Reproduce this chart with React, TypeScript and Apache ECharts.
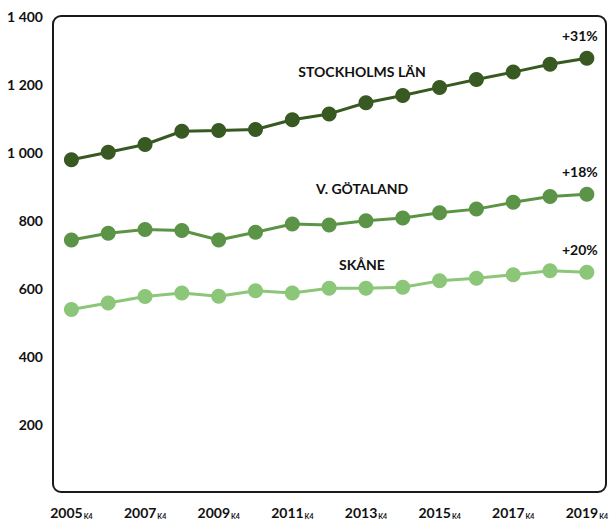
import React, { useEffect, useRef } from "react";
import * as echarts from "echarts";

const years = ["2005","2006","2007","2008","2009","2010","2011","2012","2013","2014","2015","2016","2017","2018","2019"];
const stockholm = [977, 999, 1022, 1061, 1063, 1066, 1095, 1112, 1145, 1166, 1190, 1213, 1235, 1258, 1276];
const vgotaland = [741, 761, 772, 769, 741, 764, 788, 785, 798, 806, 821, 832, 852, 869, 876];
const skane = [537, 556, 575, 585, 576, 592, 585, 599, 599, 602, 621, 629, 639, 651, 646];
const seriesNames = ["STOCKHOLMS LÄN", "V. GÖTALAND", "SKÅNE"];
const changeLabels = ["+31%", "+18%", "+20%"];
const yTicks = [0, 200, 400, 600, 800, 1000, 1200, 1400];
const quarterSuffix = "K4";

const colors = ["#385a22", "#5c9447", "#8cc679"];
const FONT = "Lato, 'Open Sans', sans-serif";

export default function App() {
  const ref = useRef<HTMLDivElement>(null);
  useEffect(() => {
    if (!ref.current) return;
    const chart = echarts.init(ref.current, undefined, { renderer: "svg" });
    const gridLeft = 53, gridRight = 5, gridTop = 16, gridBottom = 27;
    const W = 611, H = 519;
    const all = [stockholm, vgotaland, skane];
    const mkSeries = (data: number[], i: number) => ({
      type: "line",
      name: seriesNames[i],
      data: data.map((v, j) =>
        j === data.length - 1
          ? {
              value: v,
              label: {
                show: true,
                position: "top",
                distance: 8,
                offset: [-7, 0],
                formatter: changeLabels[i],
                fontFamily: FONT,
                fontWeight: "bold",
                fontSize: 14,
                color: "#111",
              },
            }
          : v
      ),
      symbol: "circle",
      symbolSize: 15,
      lineStyle: { color: colors[i], width: 3 },
      itemStyle: { color: colors[i] },
      z: 3,
    });
    chart.setOption({
      animation: false,
      grid: { left: gridLeft, right: gridRight, top: gridTop, bottom: gridBottom, containLabel: false },
      xAxis: {
        type: "category",
        data: years,
        boundaryGap: true,
        axisLine: { show: false },
        axisTick: { show: false },
        axisLabel: {
          interval: 1,
          margin: 13,
          formatter: (v: string) => `{a|${v}}{b|${quarterSuffix}}`,
          rich: {
            a: { fontFamily: FONT, fontWeight: "bold", fontSize: 14, color: "#111" },
            b: { fontFamily: FONT, fontWeight: "bold", fontSize: 7, color: "#111", verticalAlign: "bottom", padding: [6, 0, 0, 1] },
          },
        },
      },
      yAxis: {
        type: "value",
        min: yTicks[0],
        max: yTicks[yTicks.length - 1],
        interval: yTicks[1] - yTicks[0],
        axisLine: { show: false },
        axisTick: { show: false },
        splitLine: { show: false },
        axisLabel: {
          margin: 10,
          fontFamily: FONT,
          fontWeight: "bold",
          fontSize: 14,
          color: "#111",
          formatter: (v: number) => (v === 0 ? "" : String(v).replace(/\B(?=(\d{3})+(?!\d))/g, " ")),
        },
      },
      graphic: [
        {
          type: "rect",
          shape: { x: gridLeft, y: gridTop, width: W - gridLeft - gridRight, height: H - gridTop - gridBottom, r: 8 },
          style: { fill: "none", stroke: "#1a1a1a", lineWidth: 2 },
          z: 1,
        },
        ...[71, 188, 264].map((y, i) => ({
          type: "text",
          x: 362,
          y,
          style: {
            text: seriesNames[i],
            fontFamily: FONT,
            fontWeight: "bold",
            fontSize: 14,
            fill: "#111",
            textAlign: "center",
            textVerticalAlign: "middle",
          },
          z: 5,
        })),
      ],
      series: all.map((d, i) => mkSeries(d, i)),
    });
    return () => chart.dispose();
  }, []);
  return <div ref={ref} style={{ width: 611, height: 519, position: "absolute", left: 0, top: 0 }} />;
}
